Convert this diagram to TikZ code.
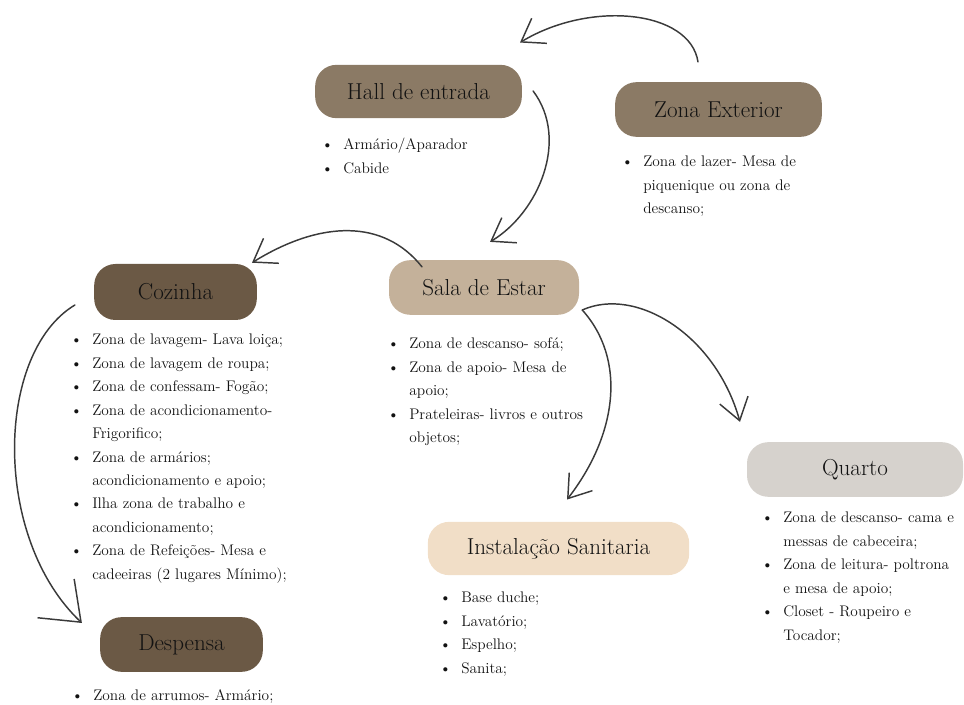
\documentclass[tikz,border=0pt]{standalone}
\usepackage{fontspec}
\usetikzlibrary{arrows.meta}

\definecolor{castanho}{RGB}{139,122,101}
\definecolor{escuro}{RGB}{107,89,69}
\definecolor{areia}{RGB}{196,177,154}
\definecolor{cinza}{RGB}{214,210,205}
\definecolor{bege}{RGB}{241,222,199}
\definecolor{traco}{RGB}{58,58,58}
\definecolor{tinta}{RGB}{18,18,18}

\newcommand{\titulo}{\fontsize{17.3}{20}\selectfont}
\newcommand{\corpo}{\fontsize{11.5}{17.6}\selectfont}

\newenvironment{itens}{\begin{list}{\textbullet}{%
	\setlength{\leftmargin}{15pt}\setlength{\labelwidth}{10pt}%
	\setlength{\labelsep}{7.5pt}\setlength{\itemsep}{0pt}%
	\setlength{\parsep}{0pt}\setlength{\topsep}{0pt}%
	\setlength{\partopsep}{0pt}\setlength{\itemindent}{0pt}}}%
	{\end{list}}

\begin{document}
\begin{tikzpicture}[x=0.75pt, y=-0.75pt,
	caixa/.style={rounded corners=16pt, inner sep=0pt, font=\titulo, text=tinta},
	lista/.style={anchor=north west, inner sep=0pt, text width=200pt, align=left, font=\corpo, text=tinta},
	seta/.style={draw=traco, line width=1.1pt, line cap=round, -{Straight Barb[length=16pt,width=22pt]}}]
\useasboundingbox (0,0) rectangle (964,705);

	%% Caixas
	\node[caixa, fill=castanho, minimum width=155pt, minimum height=40pt] (hall) at (418.5,91.5) {Hall de entrada};
	\node[caixa, fill=castanho, minimum width=155pt, minimum height=41pt] (exterior) at (718.5,109.5) {Zona Exterior};
	\node[caixa, fill=escuro, minimum width=122pt, minimum height=42pt] (cozinha) at (175.5,292) {Cozinha};
	\node[caixa, fill=areia, minimum width=142.5pt, minimum height=41pt] (sala) at (484,287.5) {Sala de Estar};
	\node[caixa, fill=cinza, minimum width=162pt, minimum height=41pt] (quarto) at (855,469.5) {Quarto};
	\node[caixa, fill=bege, minimum width=196pt, minimum height=40pt] (sanitaria) at (558.5,548.5) {Instalação Sanitaria};
	\node[caixa, fill=escuro, minimum width=122pt, minimum height=41pt] (despensa) at (181.5,644.5) {Despensa};

	%%%%%%%%%%%%%%%%

	%% Listas
	\node[lista] (lhall) at (323,126) {\begin{itens}
		\item Armário/Aparador
		\item Cabide
	\end{itens}};
	\node[lista] (lexterior) at (623,143) {\begin{itens}
		\item Zona de lazer- Mesa de\newline piquenique ou zona de\newline descanso;
	\end{itens}};
	\node[lista] (lcozinha) at (72,321) {\begin{itens}
		\item Zona de lavagem- Lava loiça;
		\item Zona de lavagem de roupa;
		\item Zona de confessam- Fogão;
		\item Zona de acondicionamento-\newline Frigorifico;
		\item Zona de armários;\newline acondicionamento e apoio;
		\item Ilha zona de trabalho e\newline acondicionamento;
		\item Zona de Refeições- Mesa e\newline cadeeiras (2 lugares Mínimo);
	\end{itens}};
	\node[lista] (lsala) at (389,325) {\begin{itens}
		\item Zona de descanso- sofá;
		\item Zona de apoio- Mesa de\newline apoio;
		\item Prateleiras- livros e outros\newline objetos;
	\end{itens}};
	\node[lista] (lquarto) at (763,499) {\begin{itens}
		\item Zona de descanso- cama e\newline messas de cabeceira;
		\item Zona de leitura- poltrona\newline e mesa de apoio;
		\item Closet - Roupeiro e\newline Tocador;
	\end{itens}};
	\node[lista] (lsanitaria) at (441,579) {\begin{itens}
		\item Base duche;
		\item Lavatório;
		\item Espelho;
		\item Sanita;
	\end{itens}};
	\node[lista] (ldespensa) at (73,677) {\begin{itens}
		\item Zona de arrumos- Armário;
	\end{itens}};

	%%%%%%%%%%%%%%%%

	%% Setas
	\draw[seta] ([shift={(-20.5,-20)}]exterior.north) .. controls (690,10) and (590,0) .. ([shift={(101.5,-22)}]hall.north);
	\draw[seta] ([shift={(11,-0.5)}]hall.east) .. controls (570,140) and (538,213) .. ([shift={(6,-18)}]sala.north);
	\draw[seta] ([shift={(-62,7)}]sala.north) .. controls (384,219) and (321,220) .. ([shift={(76.5,-1)}]cozinha.north);
	\draw[seta, -{Straight Barb[length=26pt,width=40pt]}] ([shift={(-19,13)}]cozinha.west) .. controls (-5,353) and (-8,538) .. ([shift={(-18,-21.5)}]despensa.west);
	\draw[seta] ([shift={(3,22.5)}]sala.east) .. controls (627,360) and (617,435) .. ([shift={(8.5,-22)}]sanitaria.north);
	\draw[seta] ([shift={(3,22.5)}]sala.east) .. controls (636,286) and (715.5,334.5) .. ([shift={(-115,-20)}]quarto.north);

%\draw (current bounding box.south west) rectangle (current bounding box.north east);
\end{tikzpicture}
\end{document}
